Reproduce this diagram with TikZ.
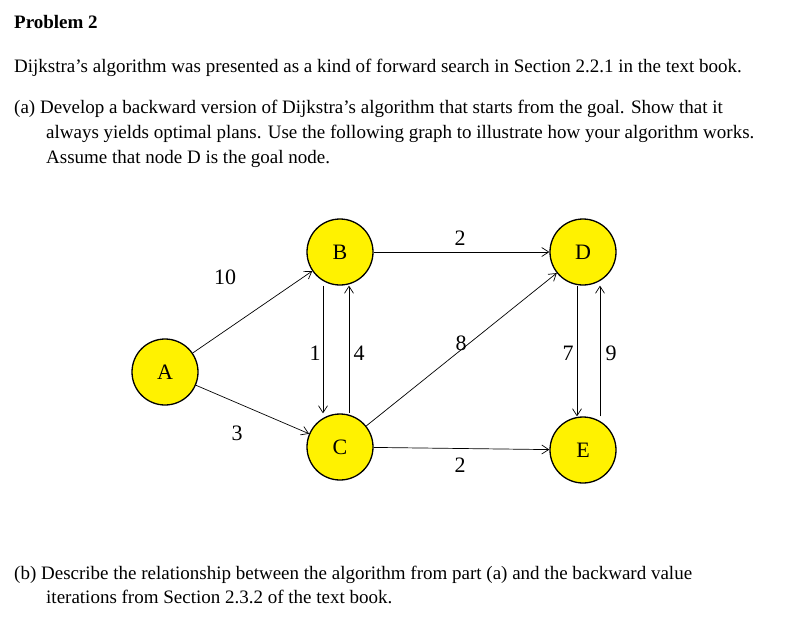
\documentclass[tikz,border=0pt]{standalone}
\usepackage{fontspec}
\setmainfont{Liberation Serif}
\usetikzlibrary{arrows.meta}
\begin{document}
\begin{tikzpicture}[x=1pt,y=-1pt,
  vtx/.style={circle,draw,line width=1.3pt,fill=yellow,minimum size=66pt,inner sep=0pt,font=\fontsize{22}{26}\selectfont},
  txt/.style={anchor=base west,inner sep=0pt,font=\fontsize{19}{22}\selectfont},
  edge/.style={draw,-{Straight Barb[length=7pt,width=9pt]},line width=0.7pt},
  lbl/.style={inner sep=1pt,font=\fontsize{22}{26}\selectfont}]
\useasboundingbox (0,0) rectangle (805,622);
\node[txt,font=\bfseries\fontsize{19}{22}\selectfont] (t0) at (14,28) {Problem 2};
\node[txt] (t1) at (14,72) {Dijkstra’s algorithm was presented as a kind of forward search in Section 2.2.1 in the text book.};
\node[txt] (t2) at (14,113) {(a) Develop a backward version of Dijkstra’s algorithm that starts from the goal. Show that it};
\node[txt] (t3) at (46,138) {always yields optimal plans. Use the following graph to illustrate how your algorithm works.};
\node[txt] (t4) at (46,163) {Assume that node D is the goal node.};
\node[txt] (t5) at (14,579) {(b) Describe the relationship between the algorithm from part (a) and the backward value};
\node[txt] (t6) at (46,603) {iterations from Section 2.3.2 of the text book.};
\node[vtx] (A) at (165,372) {A};
\node[vtx] (B) at (340,252) {B};
\node[vtx] (C) at (340,447) {C};
\node[vtx] (D) at (583,252) {D};
\node[vtx] (E) at (583,450) {E};
\draw[edge] (A) -- (B);
\node[lbl] (l10) at (225,277) {10};
\draw[edge] (A) -- (C);
\node[lbl] (l3) at (237,433) {3};
\draw[edge] (B) -- (D);
\node[lbl] (l2a) at (460,238) {2};
\draw[edge] (C) -- (E);
\node[lbl] (l2b) at (460,465) {2};
\draw[edge] (C) -- (D);
\node[lbl] (l8) at (461,343) {8};
\draw[edge] ([xshift=-17pt]B.south) -- ([xshift=-17pt]C.north);
\node[lbl] (l1) at (315,353) {1};
\draw[edge] ([xshift=9pt]C.north) -- ([xshift=9pt]B.south);
\node[lbl] (l4) at (359,353) {4};
\draw[edge] ([xshift=-6pt]D.south) -- ([xshift=-6pt]E.north);
\node[lbl] (l7) at (568,353) {7};
\draw[edge] ([xshift=17pt]E.north) -- ([xshift=17pt]D.south);
\node[lbl] (l9) at (611,353) {9};
\end{tikzpicture}
\end{document}
